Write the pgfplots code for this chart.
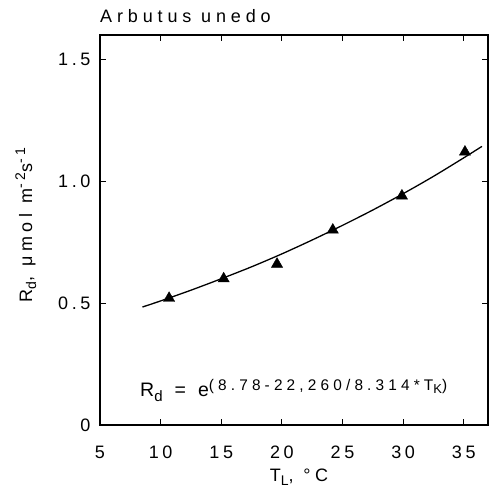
\documentclass[border=0pt]{standalone}
\usepackage{fontspec}
\setmainfont{Liberation Sans}[LetterSpace=20]
\usepackage{pgfplots}
\pgfplotsset{compat=1.18}

\begin{document}
\begin{tikzpicture}
\begin{axis}[
    scale only axis,
    width=388pt, height=390pt,
    xmin=5, xmax=37, ymin=0, ymax=1.6,
    xtick={5,10,...,35},
    ytick={0,0.5,1,1.5},
    yticklabels={0,0.5,1.0,1.5},
    tick align=inside,
    major tick length=6pt,
    axis line style={line width=1.4pt},
    every tick/.style={black, line width=1pt},
    tick label style={font=\fontsize{18}{20}\selectfont},
    xticklabel style={anchor=base, yshift=-33pt},
    yticklabel style={xshift=-6pt},
    /pgf/number format/assume math mode=true,
    xlabel={T\raisebox{-4pt}{\fontsize{14}{16}\selectfont L}, °C},
    ylabel={R\raisebox{-4pt}{\fontsize{14}{16}\selectfont d}, μmol m\raisebox{7pt}{\fontsize{14}{16}\selectfont -2}s\raisebox{7pt}{\fontsize{14}{16}\selectfont -1}},
    label style={font=\fontsize{18}{20}\selectfont\addfontfeature{LetterSpace=26}},
    xlabel style={at={(axis description cs:0.513,-0.1436)}, anchor=base},
    ylabel style={at={(axis description cs:-0.175,0.513)}, anchor=base},
    clip=false,
]
% fitted curve, values from Rd = exp(8.78 - 22260/(8.314*TK))
\addplot[black, line width=1.3pt, smooth] coordinates {
    (8.5,0.484) (10,0.509) (12.5,0.553) (15,0.600) (17.5,0.649)
    (20,0.702) (22.5,0.759) (25,0.819) (27.5,0.882) (30,0.949)
    (32.5,1.020) (35,1.096) (36.5,1.143)
};
% measured
\addplot[only marks, mark=triangle*, mark size=6.5pt, black] coordinates {
    (10.7,0.52) (15.2,0.60) (19.6,0.66) (24.2,0.80) (29.9,0.94) (35.1,1.12)
};
\node[anchor=base west, inner sep=0pt, font=\fontsize{19.5}{22}\selectfont] at (axis cs:8.3,0.115)
    {R\raisebox{-5pt}{\fontsize{15}{17}\selectfont d}\hspace{12pt}=\hspace{12pt}e\raisebox{6pt}{\fontsize{15.4}{17}\selectfont\addfontfeature{LetterSpace=27}(8.78-22,260/8.314*T\raisebox{-3pt}{\fontsize{13}{15}\selectfont K})}};
\node[anchor=base west, font=\fontsize{18}{20}\selectfont\addfontfeature{LetterSpace=27}, inner sep=0pt]
    at ([yshift=12pt]rel axis cs:0,1) {Arbutus unedo};
% page margins of the reference
\path ([xshift=-100pt,yshift=-70pt]rel axis cs:0,0) rectangle ([yshift=35pt]rel axis cs:1,1);
\end{axis}
\end{tikzpicture}
\end{document}
